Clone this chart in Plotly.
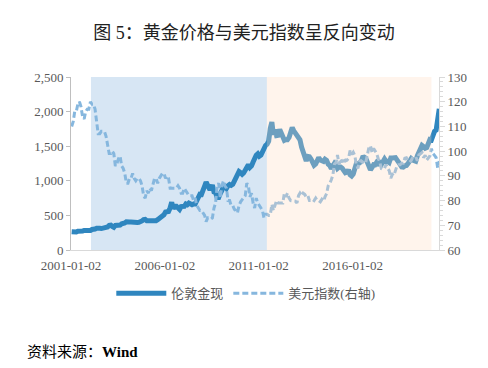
import pandas as pd
import plotly.graph_objects as go

# Monthly London gold spot (USD/oz), 2001-01 .. 2020-08
gold = [
    265, 262, 265, 260, 272, 270, 268, 273, 283, 283, 276, 276,
    282, 296, 294, 302, 314, 321, 313, 310, 319, 317, 319, 333,
    357, 359, 340, 328, 355, 356, 351, 360, 379, 379, 390, 407,
    414, 405, 406, 404, 384, 392, 398, 400, 406, 420, 439, 442,
    424, 423, 434, 429, 422, 430, 424, 438, 456, 470, 476, 510,
    549, 555, 557, 610, 690, 596, 633, 632, 598, 586, 628, 629,
    631, 665, 655, 679, 667, 655, 665, 665, 712, 754, 806, 803,
    889, 922, 980, 909, 888, 889, 939, 839, 829, 760, 760, 816,
    858, 943, 924, 890, 928, 946, 934, 949, 996, 1043, 1127, 1135,
    1118, 1095, 1113, 1148, 1205, 1232, 1193, 1215, 1271, 1343, 1370, 1391,
    1356, 1372, 1424, 1474, 1510, 1529, 1572, 1756, 1850, 1665, 1739, 1652,
    1656, 1743, 1673, 1650, 1585, 1596, 1594, 1626, 1744, 1770, 1722, 1684,
    1671, 1627, 1593, 1487, 1414, 1343, 1286, 1352, 1348, 1316, 1275, 1225,
    1244, 1300, 1336, 1299, 1287, 1279, 1311, 1296, 1239, 1222, 1176, 1200,
    1251, 1227, 1179, 1198, 1199, 1181, 1131, 1117, 1125, 1159, 1086, 1068,
    1097, 1200, 1246, 1242, 1260, 1276, 1337, 1341, 1326, 1266, 1238, 1157,
    1192, 1234, 1231, 1266, 1246, 1260, 1236, 1283, 1314, 1280, 1283, 1265,
    1331, 1331, 1325, 1335, 1303, 1282, 1238, 1202, 1199, 1215, 1221, 1250,
    1291, 1320, 1301, 1285, 1284, 1359, 1413, 1500, 1511, 1495, 1471, 1480,
    1560, 1597, 1591, 1683, 1715, 1732, 1880, 2040,
]

# Monthly US dollar index, 2001-01 .. 2020-08
dxy = [
    110, 112, 116, 116, 119, 120, 118, 114, 113, 116, 117, 117,
    120, 119, 119, 117, 112, 107, 107, 108, 108, 108, 106, 102,
    99, 99, 100, 99, 94, 95, 97, 98, 94, 93, 91, 87,
    87, 89, 89, 91, 89, 88, 89, 89, 88, 86, 82, 81,
    84, 83, 85, 84, 87, 89, 89, 87, 89, 90, 91, 91,
    89, 90, 89, 85, 85, 85, 85, 85, 86, 85, 83, 83,
    85, 84, 83, 82, 82, 82, 80, 81, 78, 77, 76, 76,
    75, 74, 71.5, 73, 73, 72.5, 73, 77, 79, 86, 87, 81,
    86, 88, 86, 85, 80, 80, 78, 78, 76.5, 76, 75, 78,
    79.5, 80.5, 81, 82, 87, 86, 81.5, 83, 79, 77, 81, 79,
    78, 77, 76, 73, 74.5, 74.5, 74, 74, 78.5, 76, 78.5, 80,
    79, 79, 79, 79, 83, 81.5, 83, 81, 80, 80, 80, 79.8,
    79, 82, 83, 82, 83, 82.5, 81.5, 82, 80, 80, 80.5, 80,
    81, 80, 80, 79.5, 80.5, 79.8, 81.5, 82.8, 86, 86.9, 88.4, 90.3,
    94.8, 95.3, 98.4, 94.6, 96.9, 95.5, 97.3, 96, 96.3, 97, 100.2, 98.7,
    99.6, 98.2, 94.6, 93, 95.9, 96.1, 95.5, 96, 95.4, 98.5, 101.5, 102.2,
    99.5, 101.1, 100.3, 99, 97, 95.6, 92.9, 92.7, 93.1, 94.6, 93.1, 92.1,
    89.1, 90.6, 90.1, 91.8, 94, 94.5, 94.5, 95.1, 95.1, 97.1, 97.3, 96.2,
    95.6, 96.2, 97.3, 97.5, 97.8, 96.1, 98.5, 98.9, 99.4, 97.4, 98.3, 96.4,
    97.4, 98.1, 101, 99, 98.3, 97.4, 93.3, 96,
]

dates = pd.date_range("2001-01-01", periods=len(gold), freq="MS") + pd.Timedelta(days=14)

x_ticks = ["2001-01-02", "2006-01-02", "2011-01-02", "2016-01-02"]
x_range = ["2001-01-02", "2020-08-10"]
blue_period = ["2002-01-25", "2011-06-10"]
peach_period = ["2011-06-10", "2020-03-15"]

FONT = "Liberation Serif, Noto Sans CJK SC, serif"

fig = go.Figure()
fig.add_trace(go.Scatter(
    x=dates, y=gold, name="伦敦金现", mode="lines",
    line=dict(color="#2f86bf", width=5), yaxis="y",
))
fig.add_trace(go.Scatter(
    x=dates, y=dxy, name="美元指数(右轴)", mode="lines",
    line=dict(color="#86b7de", width=3, dash="6px,3px"), yaxis="y2",
))

fig.add_shape(type="rect", xref="x", yref="paper", x0=blue_period[0], x1=blue_period[1],
              y0=0, y1=1, fillcolor="#d7e6f4", line_width=0, layer="below")
fig.add_shape(type="rect", xref="x", yref="paper", x0=peach_period[0], x1=peach_period[1],
              y0=0, y1=1, fillcolor="#ffd9bf", opacity=0.3, line_width=0, layer="above")

fig.update_layout(
    width=488, height=368,
    margin=dict(l=71, r=49, t=77, b=118, autoexpand=False),
    paper_bgcolor="white", plot_bgcolor="white",
    font=dict(family=FONT, size=13, color="#595959"),
    title=dict(text="图 5：黄金价格与美元指数呈反向变动", x=0.5, xanchor="center",
               y=0.91, yanchor="middle",
               font=dict(family=FONT, size=18, color="#222222")),
    xaxis=dict(type="date", range=x_range, tickvals=x_ticks, ticktext=x_ticks,
               showgrid=False, showline=True, linecolor="#d9d9d9", linewidth=1,
               ticks="", zeroline=False, tickfont=dict(size=13), automargin=False,
               ticklabelstandoff=3),
    yaxis=dict(range=[0, 2500], dtick=500, tickformat=",", showgrid=False,
               showline=True, linecolor="#bfbfbf", ticks="outside", ticklen=4,
               tickcolor="#bfbfbf", zeroline=False, tickfont=dict(size=13),
               automargin=False),
    yaxis2=dict(range=[60, 130], dtick=10, overlaying="y", side="right",
                showgrid=False, showline=True, linecolor="#d9d9d9",
                ticks="outside", ticklen=5, tickcolor="#d9d9d9", zeroline=False,
                minor=dict(dtick=2, ticks="outside", ticklen=3, tickcolor="#d9d9d9"),
                tickfont=dict(size=13), automargin=False),
    legend=dict(orientation="h", x=0.475, xanchor="center", y=-0.25, yanchor="middle",
                itemwidth=50, font=dict(size=13, color="#595959"),
                bgcolor="rgba(0,0,0,0)"),
    showlegend=True,
)

fig.add_annotation(text="资料来源：<b>Wind</b>", xref="paper", yref="paper",
                   x=(25 - 71) / 368, y=(250 - 352) / 173, xanchor="left", yanchor="middle",
                   showarrow=False, font=dict(family=FONT, size=15, color="#000000"))

fig.write_html("out.html", config={"displayModeBar": False},
               post_script="document.body.style.margin='0px';")
